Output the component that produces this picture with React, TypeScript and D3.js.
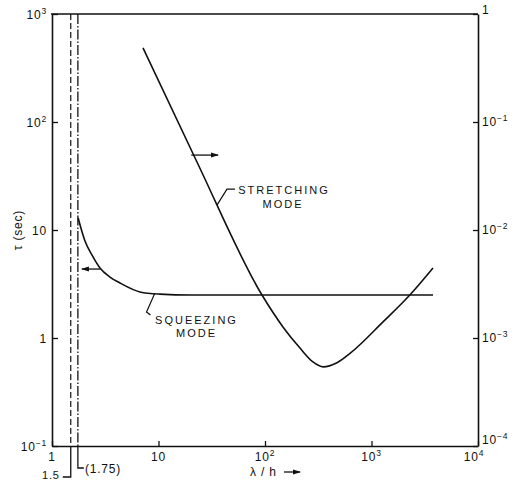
import React, { useEffect, useRef } from "react";
import * as d3 from "d3";

// axis ticks + labels ([base, superscript])
const lambdaTicks = [1, 10, 100, 1000, 10000];
const lambdaTickLabels = [["1", ""], ["10", ""], ["10", "2"], ["10", "3"], ["10", "4"]];
const tauTicks = [0.1, 1, 10, 100, 1000];
const tauTickLabels = [["10", "−1"], ["1", ""], ["10", ""], ["10", "2"], ["10", "3"]];
const rightTicks = [1e-4, 1e-3, 1e-2, 1e-1, 1];
const rightTickLabels = [["10", "−4"], ["10", "−3"], ["10", "−2"], ["10", "−1"], ["1", ""]];

// squeezing mode, read against the left axis (tau, sec)
const squeezingLambda = [1.76, 2.04, 2.37, 2.82, 3.5, 4.35, 6.7, 10.3, 20, 100, 1000, 3780];
const squeezingTau = [12.9, 7.9, 5.87, 4.45, 3.67, 3.23, 2.67, 2.55, 2.5, 2.5, 2.5, 2.5];

// stretching mode, read against the right axis
const stretchingLambda = [7.15, 22.5, 93.7, 148, 213, 282, 351, 474, 628, 1282, 2290, 3780];
const stretchingValue = [0.485, 0.0445, 2.5e-3, 1.26e-3, 8.07e-4, 6.0e-4, 5.4e-4, 5.9e-4, 7.2e-4, 1.41e-3, 2.5e-3, 4.45e-3];

const FONT = "'Liberation Sans', Arial, sans-serif";

const App = () => {
    const ref = useRef<SVGSVGElement | null>(null);
    const width = 516;
    const height = 482;

    useEffect(() => {
        const svg = d3.select(ref.current);
        svg.selectAll("*").remove();

        const x = d3.scaleLog().domain([1, 1e4]).range([52, 478]);
        const yLeft = d3.scaleLog().domain([0.1, 1000]).range([446, 14]);
        const yRight = d3.scaleLog().domain([1e-4, 1]).range([446, 14]);

        svg.append("defs")
            .append("marker")
            .attr("id", "head")
            .attr("markerUnits", "userSpaceOnUse")
            .attr("markerWidth", 8)
            .attr("markerHeight", 6)
            .attr("refX", 7)
            .attr("refY", 3)
            .attr("orient", "auto")
            .append("path")
            .attr("d", "M0,0.5 L8,3 L0,5.5 Z")
            .attr("fill", "#111");

        const ink = "#111";

        // top frame line
        svg.append("line")
            .attr("x1", x(1) - 1).attr("x2", x(1e4))
            .attr("y1", yLeft(1000)).attr("y2", yLeft(1000))
            .attr("stroke", ink).attr("stroke-width", 1.6);

        const styleAxis = (g) => {
            g.select(".domain").attr("stroke", ink).attr("stroke-width", 1.6);
            g.selectAll(".tick line").attr("stroke", ink).attr("stroke-width", 1.3);
            g.selectAll(".tick text").remove();
        };

        svg.append("g")
            .attr("transform", `translate(0,${yLeft(0.1)})`)
            .call(d3.axisBottom(x).tickValues(lambdaTicks).tickSizeInner(-5).tickSizeOuter(0))
            .call(styleAxis);
        svg.append("g")
            .attr("transform", `translate(${x(1)},0)`)
            .call(d3.axisLeft(yLeft).tickValues(tauTicks).tickSizeInner(-6).tickSizeOuter(0))
            .call(styleAxis);
        svg.append("g")
            .attr("transform", `translate(${x(1e4)},0)`)
            .call(d3.axisRight(yRight).tickValues(rightTicks).tickSizeInner(-5).tickSizeOuter(0))
            .call(styleAxis);

        const label = (px, py, parts, anchor) => {
            const t = svg.append("text")
                .attr("x", px).attr("y", py)
                .attr("text-anchor", anchor)
                .attr("font-family", FONT)
                .attr("font-size", 12)
                .attr("letter-spacing", 0.8)
                .attr("fill", ink);
            t.append("tspan").text(parts[0]);
            if (parts[1]) {
                t.append("tspan").attr("dy", -5).attr("font-size", 8.5).text(parts[1]);
            }
        };

        lambdaTicks.forEach((v, i) => label(x(v) + (i === 4 ? -4 : 0), 461, lambdaTickLabels[i], "middle"));
        tauTicks.forEach((v, i) => label(47, yLeft(v) + 5, tauTickLabels[i], "end"));
        rightTicks.forEach((v, i) => label(482, yRight(v) + (i === 4 ? 0 : i === 0 ? -2 : 4), rightTickLabels[i], "start"));

        // axis titles
        svg.append("text")
            .attr("transform", `translate(22,${yLeft(10)}) rotate(-90)`)
            .attr("text-anchor", "middle")
            .attr("font-family", FONT)
            .attr("font-size", 12)
            .attr("letter-spacing", 0.8)
            .attr("fill", ink)
            .text("τ (sec)");
        svg.append("text")
            .attr("x", 250).attr("y", 476)
            .attr("font-family", FONT)
            .attr("font-size", 12)
            .attr("letter-spacing", 0.8)
            .attr("fill", ink)
            .text("λ / h");
        svg.append("line")
            .attr("x1", 284).attr("x2", 300).attr("y1", 472).attr("y2", 472)
            .attr("stroke", ink).attr("stroke-width", 1.3)
            .attr("marker-end", "url(#head)");

        // critical ratio lines
        svg.append("line")
            .attr("x1", x(1.5)).attr("x2", x(1.5))
            .attr("y1", yLeft(1000)).attr("y2", yLeft(0.1))
            .attr("stroke", ink).attr("stroke-width", 1.2)
            .attr("stroke-dasharray", "6,3");
        svg.append("line")
            .attr("x1", x(1.75)).attr("x2", x(1.75))
            .attr("y1", yLeft(1000)).attr("y2", yLeft(0.1))
            .attr("stroke", ink).attr("stroke-width", 1.3)
            .attr("stroke-dasharray", "10,2,1.5,2");
        svg.append("path")
            .attr("d", `M${x(1.5)},${yLeft(0.1)} V477 H${x(1.5) - 8}`)
            .attr("fill", "none").attr("stroke", ink).attr("stroke-width", 1.3);
        svg.append("path")
            .attr("d", `M${x(1.75)},${yLeft(0.1)} V468 H${x(1.75) + 6}`)
            .attr("fill", "none").attr("stroke", ink).attr("stroke-width", 1.3);
        svg.append("text")
            .attr("x", x(1.5) - 11).attr("y", 479)
            .attr("text-anchor", "end")
            .attr("font-family", FONT).attr("font-size", 11).attr("letter-spacing", 0.8)
            .attr("fill", ink)
            .text("1.5");
        svg.append("text")
            .attr("x", x(1.75) + 7).attr("y", 473)
            .attr("font-family", FONT).attr("font-size", 12).attr("letter-spacing", 0.8)
            .attr("fill", ink)
            .text("(1.75)");

        // curves
        const lineLeft = d3.line<number>()
            .x((d, i) => x(squeezingLambda[i]))
            .y((d) => yLeft(d))
            .curve(d3.curveMonotoneX);
        svg.append("path")
            .attr("d", lineLeft(squeezingTau))
            .attr("fill", "none").attr("stroke", ink).attr("stroke-width", 1.6);

        const lineRight = d3.line<number>()
            .x((d, i) => x(stretchingLambda[i]))
            .y((d) => yRight(d))
            .curve(d3.curveMonotoneX);
        svg.append("path")
            .attr("d", lineRight(stretchingValue))
            .attr("fill", "none").attr("stroke", ink).attr("stroke-width", 1.6);

        // axis-pointer arrows
        svg.append("line")
            .attr("x1", x(2.85)).attr("x2", x(1.91))
            .attr("y1", yLeft(4.35)).attr("y2", yLeft(4.35))
            .attr("stroke", ink).attr("stroke-width", 1.3)
            .attr("marker-end", "url(#head)");
        svg.append("line")
            .attr("x1", x(20.3)).attr("x2", x(36.2))
            .attr("y1", yRight(0.0494)).attr("y2", yRight(0.0494))
            .attr("stroke", ink).attr("stroke-width", 1.3)
            .attr("marker-end", "url(#head)");

        // curve labels with leaders
        const sx = x(35.4), sy = yRight(0.017);
        svg.append("path")
            .attr("d", `M${sx},${sy} L${sx + 10},${sy - 16} H${sx + 18}`)
            .attr("fill", "none").attr("stroke", ink).attr("stroke-width", 1.2);
        const stretchText = svg.append("text")
            .attr("font-family", FONT).attr("font-size", 11).attr("letter-spacing", 2)
            .attr("fill", ink).attr("text-anchor", "middle");
        stretchText.append("tspan").attr("x", sx + 67).attr("y", sy - 11).text("STRETCHING");
        stretchText.append("tspan").attr("x", sx + 66).attr("y", sy + 3).text("MODE");

        const qx = x(10), qy = yLeft(2.55);
        svg.append("path")
            .attr("d", `M${qx - 4},${qy} L${qx - 12},${qy + 18} L${qx - 8},${qy + 21}`)
            .attr("fill", "none").attr("stroke", ink).attr("stroke-width", 1.2);
        const squeezeText = svg.append("text")
            .attr("font-family", FONT).attr("font-size", 11).attr("letter-spacing", 2)
            .attr("fill", ink).attr("text-anchor", "middle");
        squeezeText.append("tspan").attr("x", qx + 38).attr("y", qy + 30).text("SQUEEZING");
        squeezeText.append("tspan").attr("x", qx + 38).attr("y", qy + 43).text("MODE");
    }, []);

    return (
        <svg
            ref={ref}
            width={width}
            height={height}
            style={{ position: "absolute", left: 0, top: 0, background: "#fff" }}
        />
    );
};

export default App;
